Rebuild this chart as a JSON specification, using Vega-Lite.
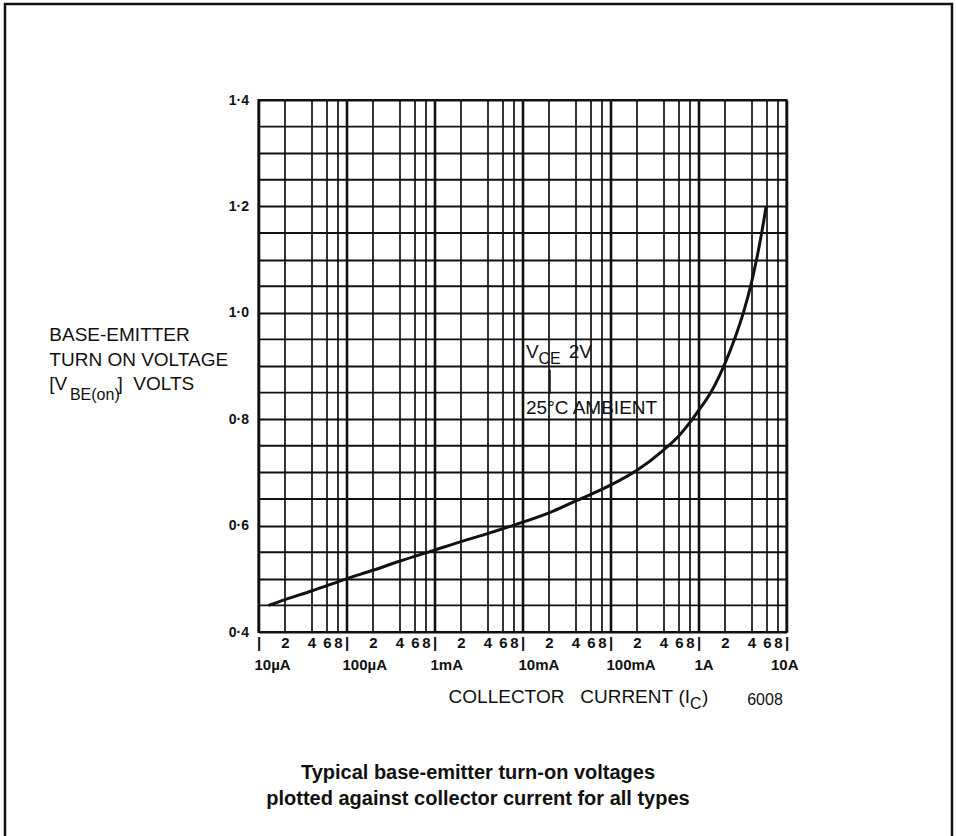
{
  "$schema": "https://vega.github.io/schema/vega-lite/v6.json",
  "description": "Typical base-emitter turn-on voltage against collector current",
  "width": 528,
  "height": 532,
  "autosize": {"type": "none"},
  "padding": {"left": 258.5, "top": 100, "right": 169.5, "bottom": 204},
  "background": "white",
  "config": {
    "view": {"stroke": "#111", "strokeWidth": 2},
    "font": "Liberation Sans",
    "text": {"color": "#111", "font": "Liberation Sans", "baseline": "middle"}
  },
  "datasets": {
    "curve": [
      {"current": 0.000013, "vbe": 0.450},
      {"current": 0.00002, "vbe": 0.461},
      {"current": 0.00004, "vbe": 0.477},
      {"current": 0.0001, "vbe": 0.500},
      {"current": 0.0002, "vbe": 0.516},
      {"current": 0.0004, "vbe": 0.533},
      {"current": 0.001, "vbe": 0.554},
      {"current": 0.002, "vbe": 0.570},
      {"current": 0.004, "vbe": 0.585},
      {"current": 0.008, "vbe": 0.601},
      {"current": 0.02, "vbe": 0.624},
      {"current": 0.04, "vbe": 0.646},
      {"current": 0.1, "vbe": 0.676},
      {"current": 0.2, "vbe": 0.704},
      {"current": 0.4, "vbe": 0.742},
      {"current": 0.6, "vbe": 0.769},
      {"current": 0.8, "vbe": 0.794},
      {"current": 1.0, "vbe": 0.816},
      {"current": 1.4, "vbe": 0.852},
      {"current": 2.0, "vbe": 0.905},
      {"current": 2.6, "vbe": 0.953},
      {"current": 3.3, "vbe": 1.005},
      {"current": 3.95, "vbe": 1.053},
      {"current": 4.58, "vbe": 1.101},
      {"current": 5.22, "vbe": 1.150},
      {"current": 5.85, "vbe": 1.199}
    ],
    "ygrid": [
      {"v": 0.45}, {"v": 0.55}, {"v": 0.65}, {"v": 0.75}, {"v": 0.85},
      {"v": 0.95}, {"v": 1.05}, {"v": 1.15}, {"v": 1.25}, {"v": 1.35}
    ],
    "notes": [
      {"x": 4.2e-8, "y": 0.9583, "text": "BASE-EMITTER"},
      {"x": 4.2e-8, "y": 0.9113, "text": "TURN ON VOLTAGE"},
      {"x": 4.2e-8, "y": 0.8662, "text": "[V"},
      {"x": 2.5e-7, "y": 0.8662, "text": "]\u00a0\u00a0VOLTS"},
      {"x": 0.01096, "y": 0.9269, "text": "V"},
      {"x": 0.0335, "y": 0.9269, "text": "2V"},
      {"x": 0.01096, "y": 0.8205, "text": "25°C AMBIENT"},
      {"x": 1.096, "y": 0.2778, "text": ")"}
    ],
    "subscripts": [
      {"x": 7.2e-8, "y": 0.8464, "text": "BE(on)"},
      {"x": 0.0152, "y": 0.9132, "text": "CE"},
      {"x": 0.8006, "y": 0.2656, "text": "C"}
    ],
    "xtitle": [
      {"x": 0.8006, "y": 0.2778, "text": "COLLECTOR\u00a0\u00a0\u00a0CURRENT\u00a0(I"}
    ],
    "figno": [
      {"x": 5.7, "y": 0.2722, "text": "6008"}
    ],
    "caption": [
      {"x": 0.00312, "y": 0.135, "text": "Typical base-emitter turn-on voltages"},
      {"x": 0.00312, "y": 0.0861, "text": "plotted against collector current for all types"}
    ],
    "decades": [
      {"x": 0.00001, "y": 0.4, "text": "10µA"},
      {"x": 0.0001, "y": 0.4, "text": "100µA"},
      {"x": 0.001, "y": 0.4, "text": "1mA"},
      {"x": 0.01, "y": 0.4, "text": "10mA"},
      {"x": 0.1, "y": 0.4, "text": "100mA"},
      {"x": 1, "y": 0.4, "text": "1A"}
    ],
    "lastdecade": [
      {"x": 10, "y": 0.4, "text": "10A"}
    ],
    "leader": [
      {"x": 0.02054, "y": 0.893, "y2": 0.848}
    ],
    "frame": [
      {"x": 1.316e-8, "x2": 759.8, "y": 1.5805, "y2": 0.0}
    ]
  },
  "layer": [
    {
      "data": {"name": "ygrid"},
      "mark": {"type": "rule", "color": "#111", "strokeWidth": 1.9},
      "encoding": {
        "y": {"field": "v", "type": "quantitative", "title": null}
      }
    },
    {
      "data": {"name": "curve"},
      "mark": {"type": "line", "interpolate": "monotone", "color": "#111", "strokeWidth": 3},
      "encoding": {
        "x": {
          "field": "current",
          "type": "quantitative",
          "title": null,
          "scale": {"type": "log", "domain": [0.00001, 10], "nice": false},
          "axis": {
            "values": [0.00001, 0.00002, 0.00004, 0.00006, 0.00008, 0.0001, 0.0002, 0.0004, 0.0006, 0.0008, 0.001, 0.002, 0.004, 0.006, 0.008, 0.01, 0.02, 0.04, 0.06, 0.08, 0.1, 0.2, 0.4, 0.6, 0.8, 1, 2, 4, 6, 8, 10],
            "title": null,
            "domain": false,
            "ticks": false,
            "grid": true,
            "gridColor": "#111",
            "gridOpacity": 1,
            "gridWidth": {"condition": {"test": "abs(log(datum.value)/LN10 - round(log(datum.value)/LN10)) < 0.001", "value": 2.6}, "value": 1.7},
            "labelExpr": "abs(log(datum.value)/LN10 - round(log(datum.value)/LN10)) < 0.001 ? '|' : '' + round(datum.value / pow(10, floor(log(datum.value)/LN10 + 0.000001)))",
            "labelFont": "Liberation Sans",
            "labelFontSize": 15,
            "labelFontWeight": "bold",
            "labelColor": "#111",
            "labelPadding": 3,
            "labelFlush": false,
            "labelOverlap": false,
            "labelBound": false
          }
        },
        "y": {
          "field": "vbe",
          "type": "quantitative",
          "title": null,
          "scale": {"domain": [0.4, 1.4], "nice": false, "zero": false},
          "axis": {
            "values": [0.4, 0.45, 0.5, 0.55, 0.6, 0.65, 0.7, 0.75, 0.8, 0.85, 0.9, 0.95, 1.0, 1.05, 1.1, 1.15, 1.2, 1.25, 1.3, 1.35, 1.4],
            "tickCount": 20,
            "title": null,
            "domain": false,
            "ticks": false,
            "grid": true,
            "gridColor": "#111",
            "gridOpacity": 1,
            "gridWidth": 1.9,
            "labelExpr": "abs(datum.value*5 - round(datum.value*5)) < 0.001 ? replace(format(datum.value, '.1f'), '.', '·') : ''",
            "labelFont": "Liberation Sans",
            "labelFontSize": 14,
            "labelFontWeight": "bold",
            "labelColor": "#111",
            "labelPadding": 10,
            "labelBaseline": "middle",
            "labelOverlap": false,
            "labelBound": false,
            "labelFlush": false
          }
        }
      }
    },
    {
      "data": {"name": "notes"},
      "mark": {"type": "text", "align": "left", "fontSize": 19},
      "encoding": {
        "x": {"field": "x", "type": "quantitative", "title": null},
        "y": {"field": "y", "type": "quantitative", "title": null},
        "text": {"field": "text"}
      }
    },
    {
      "data": {"name": "subscripts"},
      "mark": {"type": "text", "align": "left", "fontSize": 16},
      "encoding": {
        "x": {"field": "x", "type": "quantitative", "title": null},
        "y": {"field": "y", "type": "quantitative", "title": null},
        "text": {"field": "text"}
      }
    },
    {
      "data": {"name": "xtitle"},
      "mark": {"type": "text", "align": "right", "fontSize": 19},
      "encoding": {
        "x": {"field": "x", "type": "quantitative", "title": null},
        "y": {"field": "y", "type": "quantitative", "title": null},
        "text": {"field": "text"}
      }
    },
    {
      "data": {"name": "figno"},
      "mark": {"type": "text", "align": "center", "fontSize": 16},
      "encoding": {
        "x": {"field": "x", "type": "quantitative", "title": null},
        "y": {"field": "y", "type": "quantitative", "title": null},
        "text": {"field": "text"}
      }
    },
    {
      "data": {"name": "caption"},
      "mark": {"type": "text", "align": "center", "fontSize": 20, "fontWeight": "bold"},
      "encoding": {
        "x": {"field": "x", "type": "quantitative", "title": null},
        "y": {"field": "y", "type": "quantitative", "title": null},
        "text": {"field": "text"}
      }
    },
    {
      "data": {"name": "decades"},
      "mark": {"type": "text", "align": "left", "fontSize": 15, "fontWeight": "bold", "dx": -4, "dy": 33},
      "encoding": {
        "x": {"field": "x", "type": "quantitative", "title": null},
        "y": {"field": "y", "type": "quantitative", "title": null},
        "text": {"field": "text"}
      }
    },
    {
      "data": {"name": "lastdecade"},
      "mark": {"type": "text", "align": "right", "fontSize": 15, "fontWeight": "bold", "dx": 12, "dy": 33},
      "encoding": {
        "x": {"field": "x", "type": "quantitative", "title": null},
        "y": {"field": "y", "type": "quantitative", "title": null},
        "text": {"field": "text"}
      }
    },
    {
      "data": {"name": "leader"},
      "mark": {"type": "rule", "color": "#111", "strokeWidth": 1.5},
      "encoding": {
        "x": {"field": "x", "type": "quantitative", "title": null},
        "y": {"field": "y", "type": "quantitative", "title": null},
        "y2": {"field": "y2"}
      }
    },
    {
      "data": {"name": "frame"},
      "mark": {"type": "rect", "fillOpacity": 0, "stroke": "#111", "strokeWidth": 2.5},
      "encoding": {
        "x": {"field": "x", "type": "quantitative", "title": null},
        "x2": {"field": "x2"},
        "y": {"field": "y", "type": "quantitative", "title": null},
        "y2": {"field": "y2"}
      }
    }
  ]
}
